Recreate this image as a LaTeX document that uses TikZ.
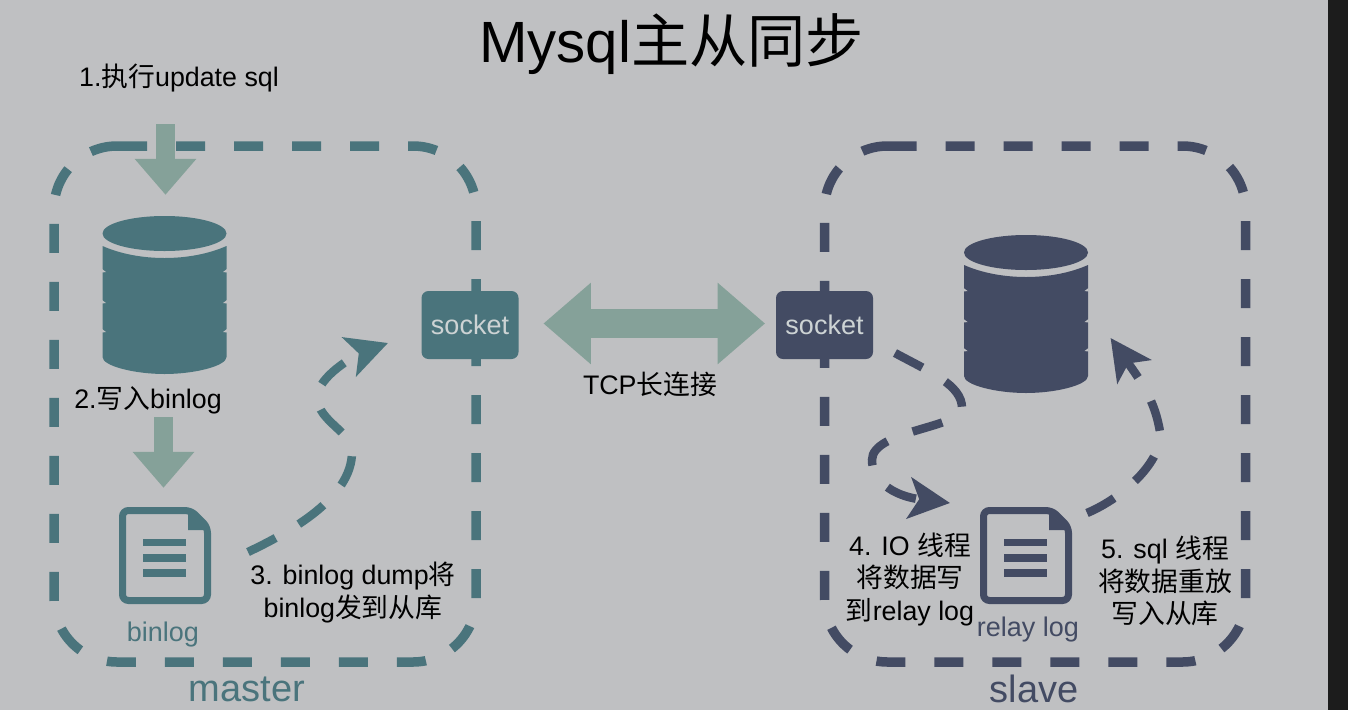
\documentclass[tikz,border=0pt]{standalone}
\usepackage{fontspec}
\usepackage{xcolor}
\usepackage{tikz}
\usetikzlibrary{positioning, arrows.meta}
\setmainfont{Liberation Sans}
\newfontfamily\cjk{Noto Sans CJK SC}
\newcommand{\zh}[1]{{\cjk #1}}
\newcommand{\fsize}[2]{\fontsize{#1}{#2}\selectfont}

\definecolor{pagebg}{HTML}{BFC0C2}
\definecolor{stripbg}{HTML}{1C1C1C}
\definecolor{mastercol}{HTML}{4A747C}
\definecolor{slavecol}{HTML}{434B63}
\definecolor{flowcol}{HTML}{85A199}
\definecolor{socktext}{HTML}{CDD3D4}

\tikzset{
  dashbox/.style = {line width=9.5pt, rounded corners=63pt, dash pattern=on 29pt off 29pt},
  flowdash/.style = {line width=8.5pt, dash pattern=on 31pt off 27pt,
    -{Stealth[length=41pt, width=41pt, inset=10pt]}},
  fatarrow/.style = {flowcol, line width=19pt, -{Triangle[length=36pt, width=59.5pt]}},
  tcparrow/.style = {flowcol, line width=28.5pt,
    {Triangle[length=47.5pt, width=78.5pt]}-{Triangle[length=47.5pt, width=78.5pt]}},
  socketnode/.style = {rounded corners=7pt, minimum width=97pt, minimum height=68pt,
    inner sep=0pt, text=socktext, font=\fsize{27}{30}},
  iconnode/.style = {inner sep=0pt},
  steptext/.style = {align=center, inner sep=0pt, font=\fsize{26.8}{32.5}},
  grouptext/.style = {inner sep=0pt, font=\fsize{38}{42}},
  filetext/.style = {inner sep=0pt, font=\fsize{27}{30}}
}

% database icon, #2 #3 = top centre
\newcommand{\dbicon}[4]{
  \node (#1) [iconnode, minimum width=124pt, minimum height=158pt] at (#2,#3+79) {};
  \begin{scope}[shift={(#2,#3)}]
    \fill [#4] (0,17.5) ellipse [x radius=62pt, y radius=17.5pt];
    \fill [#4] (-62,30) .. controls (-44,38) and (-22,42) .. (0,42)
      .. controls (22,42) and (44,38) .. (62,30) -- (62,141)
      .. controls (62,150) and (30,158) .. (0,158)
      .. controls (-30,158) and (-62,150) .. (-62,141) -- cycle;
    \foreach \y in {56,87,116} {
      \fill [pagebg] (-62.5,\y-3) -- (-58.5,\y) -- (-62.5,\y+0.5) -- cycle;
      \fill [pagebg] (62.5,\y-3) -- (58.5,\y) -- (62.5,\y+0.5) -- cycle;
    }
  \end{scope}
}

% file icon, #2 #3 = top left
\newcommand{\docicon}[4]{
  \node (#1) [iconnode, minimum width=92pt, minimum height=97pt] at (#2+46,#3+48.5) {};
  \begin{scope}[shift={(#2,#3)}]
    \draw [#4, line width=7pt, rounded corners=6pt] (3.5,3.5) -- (72,3.5)
      -- (88.5,20) -- (88.5,93.5) -- (3.5,93.5) -- cycle;
    \fill [#4] (69,5) -- (69,23) -- (88,23) -- cycle;
    \foreach \y in {31.5,47,62} {
      \fill [#4] (24,\y) rectangle (66.5,\y+7.5);
    }
  \end{scope}
}

\begin{document}
\begin{tikzpicture}[x=1pt, y=-1pt]
  \useasboundingbox (0,0) rectangle (1348,710);
  \fill [pagebg] (0,0) rectangle (1348,710);
  \fill [stripbg] (1328,0) rectangle (1348,710);

  \node (title) [inner sep=0pt, font=\fsize{58.2}{60}] at (671.5,44) {Mysql\zh{主从同步}};

  % master side
  \draw [dashbox, mastercol] (118,146) -| (476,662) -| (54,146) -- (118,146);
  \dbicon{masterdb}{164.5}{216}{mastercol}
  \docicon{binlogdoc}{119}{507}{mastercol}
  \node (mastersocket) [socketnode, fill=mastercol] at (470,325) {socket};
  \node (binloglabel) [filetext, text=mastercol, below = 18pt of binlogdoc, xshift=-2pt] {binlog};
  \node (masterlabel) [grouptext, text=mastercol] at (247,689) {master};

  \node (stepone) [steptext] at (179,78) {1.\zh{执行}update sql};
  \node (steptwo) [steptext] at (148,400) {2.\zh{写入}binlog};
  \node (stepthree) [steptext] at (353,592.5) {3. binlog dump\zh{将}\\binlog\zh{发到从库}};

  \coordinate (writein) at (165.5,124);
  \coordinate (writelog) at (163.5,417);
  \draw [fatarrow, shorten >=21pt] (writein) -- (writein |- masterdb.north);
  \draw [fatarrow, shorten >=19pt] (writelog) -- (writelog |- binlogdoc.north);

  \coordinate (dumpstart) at (248,552);
  \coordinate (dumpend) at (388,343);
  \draw [flowdash, mastercol] (dumpstart) .. controls (290,532) and (352,498) .. (352,452)
    .. controls (352,430) and (313,420) .. (318,393)
    .. controls (322,373) and (360,353) .. (dumpend);

  % slave side
  \draw [dashbox, slavecol] (887.5,146) -| (1245.5,662) -| (824.5,146) -- (887.5,146);
  \dbicon{slavedb}{1026}{235}{slavecol}
  \docicon{relaydoc}{980}{507}{slavecol}
  \node (slavesocket) [socketnode, fill=slavecol] at (824.5,325) {socket};
  \node (relaylabel) [filetext, text=slavecol, below = 13pt of relaydoc, xshift=2pt] {relay log};
  \node (slavelabel) [grouptext, text=slavecol] at (1034,689) {slave};

  \node (stepfour) [steptext] at (910,579) {4. IO \zh{线程}\\\zh{将数据写}\\\zh{到}relay log};
  \node (stepfive) [steptext] at (1165,581) {5. sql \zh{线程}\\\zh{将数据重放}\\\zh{写入从库}};

  \coordinate (iostart) at (895,353);
  \coordinate (ioend) at (950,503);
  \draw [flowdash, slavecol] (iostart) .. controls (930,372) and (962,385) .. (962,408)
    .. controls (962,428) and (872,430) .. (872,460)
    .. controls (872,480) and (892,496) .. (ioend);

  \coordinate (sqlstart) at (1087,513);
  \coordinate (sqlend) at (1110.6,338);
  \draw [flowdash, slavecol] (sqlstart) .. controls (1125,497) and (1163,460) .. (1160,432)
    .. controls (1155,400) and (1140,380) .. (sqlend);

  % between the sockets
  \draw [tcparrow, shorten <=24.7pt, shorten >=10.7pt]
    ([yshift=1.5pt]mastersocket.east) -- ([yshift=1.5pt]slavesocket.west);
  \node (tcplabel) [steptext] at (650,384) {TCP\zh{长连接}};
\end{tikzpicture}
\end{document}
